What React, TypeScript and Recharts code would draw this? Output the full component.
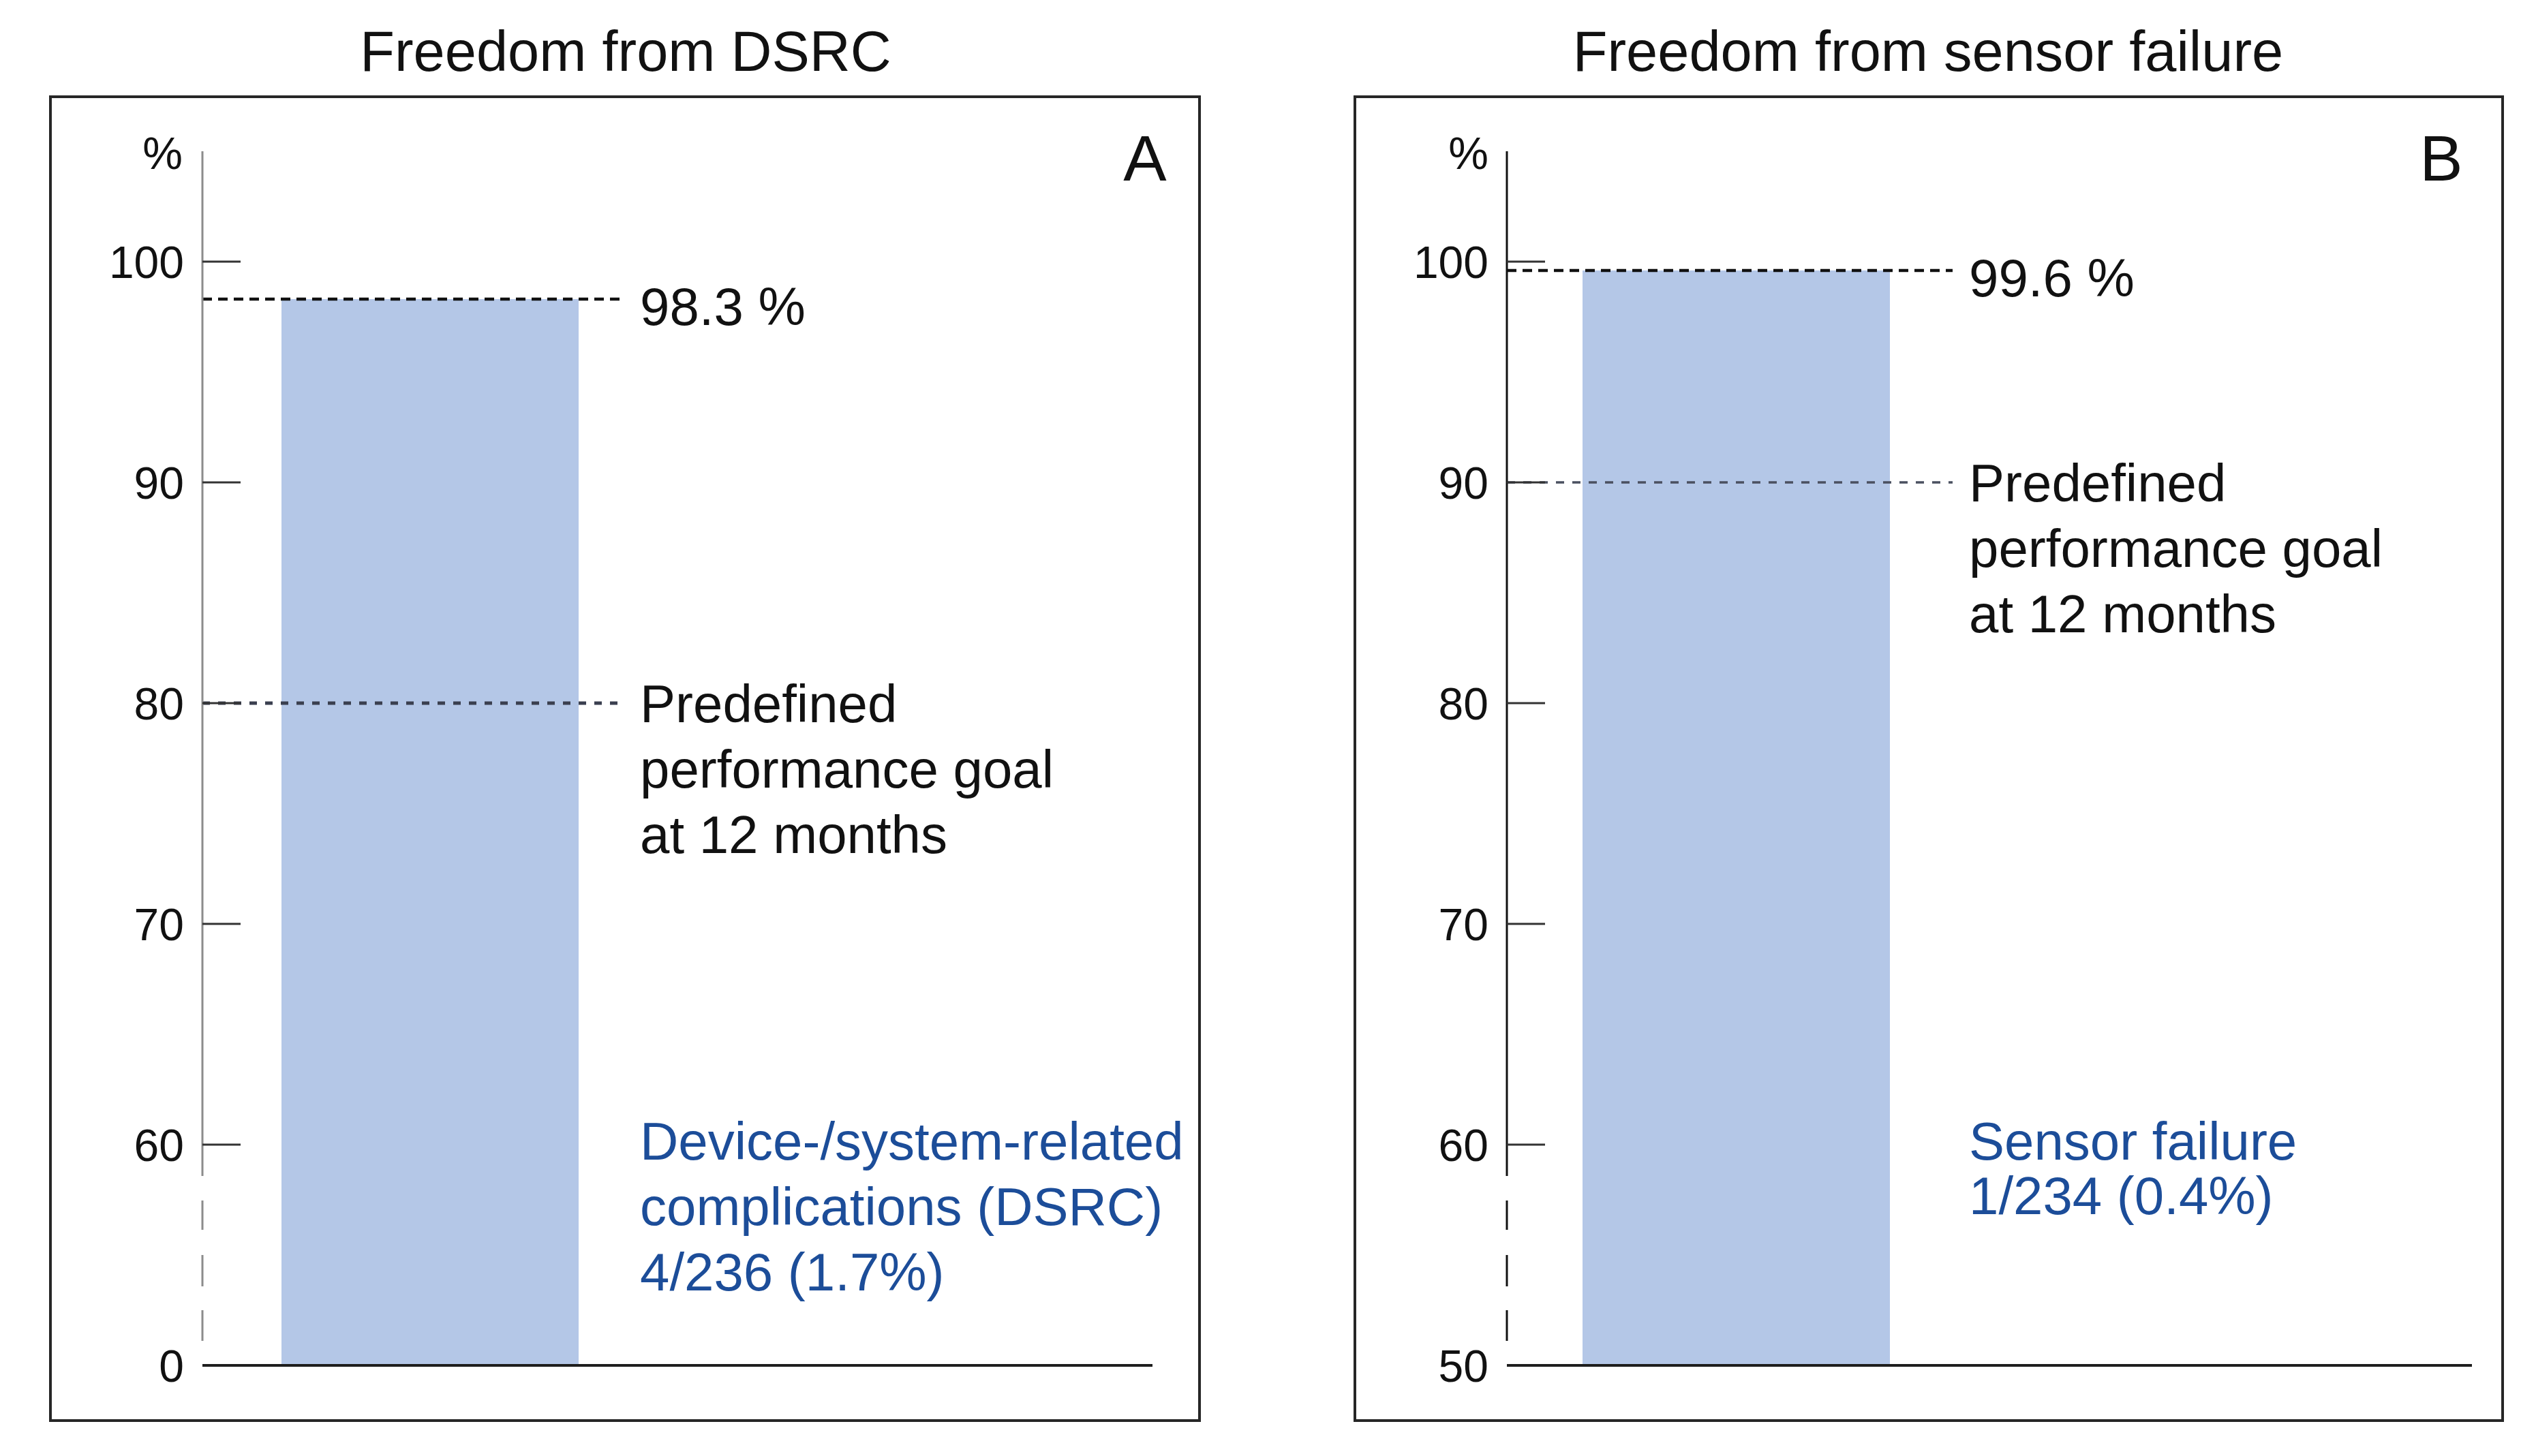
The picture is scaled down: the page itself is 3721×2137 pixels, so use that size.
import React from 'react';
import { BarChart, Bar, XAxis, YAxis, ReferenceLine } from 'recharts';

// ---------- data ----------
const categoriesA = ['Freedom from DSRC'];
const freedomA = [98.3];
const categoriesB = ['Freedom from sensor failure'];
const freedomB = [99.6];
const tickValues = [50, 60, 70, 80, 90, 100];
const tickLabelsA = ['0', '60', '70', '80', '90', '100'];
const tickLabelsB = ['50', '60', '70', '80', '90', '100'];
const goalA = 80;
const goalB = 90;
const titles = ['Freedom from DSRC', 'Freedom from sensor failure'];
const panelLetters = ['A', 'B'];
const resultLabels = ['98.3 %', '99.6 %'];
const goalLines = ['Predefined', 'performance goal', 'at 12 months'];
const eventLinesA = ['Device-/system-related', 'complications (DSRC)', '4/236 (1.7%)'];
const eventLinesB = ['Sensor failure', '1/234 (0.4%)'];

const dataA = categoriesA.map((name, i) => ({ name, value: freedomA[i] }));
const dataB = categoriesB.map((name, i) => ({ name, value: freedomB[i] }));

// ---------- style ----------
const FONT = '"Liberation Sans", Arial, Helvetica, sans-serif';
const BAR = '#b4c7e7';
const BLUE = '#1c4d99';
const INK = '#111111';
const TICK_FS = 66;
const ANN_FS = 78;

const makeTick = (labels: string[]) => (props: any) => {
  const { x, y, payload } = props;
  const idx = tickValues.indexOf(payload.value);
  const lbl = idx >= 0 ? labels[idx] : '';
  return (
    <g>
      {payload.value !== 50 && (
        <line x1={x} y1={y} x2={x + 56} y2={y} stroke="#333" strokeWidth={3} />
      )}
      <text
        x={x - 27}
        y={y + TICK_FS * 0.358}
        textAnchor="end"
        fontSize={TICK_FS}
        fontFamily={FONT}
        fill={INK}
      >
        {lbl}
      </text>
    </g>
  );
};

const makeRefShape = (
  len: number,
  textX: number,
  lines: string[],
  lineH: number,
  dy: number,
  color: string,
  dash: string,
  width: number
) => (p: any) => {
  const x0 = p.x1;
  const y0 = p.y1;
  return (
    <g>
      <line
        x1={x0}
        y1={y0}
        x2={x0 + len}
        y2={y0}
        stroke={color}
        strokeWidth={width}
        strokeDasharray={dash}
      />
      {lines.map((t, i) => (
        <text
          key={i}
          x={x0 + textX}
          y={y0 + dy + i * lineH + ANN_FS * 0.358}
          fontSize={ANN_FS}
          fontFamily={FONT}
          fill={INK}
        >
          {t}
        </text>
      ))}
    </g>
  );
};

type PanelProps = {
  left: number;
  top: number;
  width: number;
  height: number;
  marginRight: number;
  padRight: number;
  barSize: number;
  data: { name: string; value: number }[];
  labels: string[];
  axisColor: string;
  result: number;
  resultLabel: string;
  goal: number;
  lineLen: number;
  textX: number;
  goalColor: string;
  goalDash: string;
  goalWidth: number;
};

function Panel(p: PanelProps) {
  return (
    <div style={{ position: 'absolute', left: p.left, top: p.top }}>
      <BarChart
        width={p.width}
        height={p.height}
        data={p.data}
        margin={{ top: 80, right: p.marginRight, bottom: 80, left: 0 }}
        barCategoryGap={0}
      >
        <XAxis
          dataKey="name"
          type="category"
          tick={false}
          tickLine={false}
          height={1}
          axisLine={{ stroke: '#1e1e1e', strokeWidth: 4 }}
          padding={{ left: 0, right: p.padRight }}
        />
        <YAxis
          type="number"
          domain={[50, 105]}
          ticks={tickValues}
          interval={0}
          width={223}
          tickSize={0}
          tickMargin={0}
          tickLine={false}
          axisLine={{
            stroke: p.axisColor,
            strokeWidth: 3,
            strokeDasharray: '1504 36 43 37 46 35 45 60',
          }}
          tick={makeTick(p.labels)}
        />
        <Bar dataKey="value" fill={BAR} barSize={p.barSize} isAnimationActive={false} />
        <ReferenceLine
          y={p.goal}
          shape={makeRefShape(p.lineLen, p.textX, goalLines, 96, 0, p.goalColor, p.goalDash, p.goalWidth)}
        />
        <ReferenceLine
          y={p.result}
          shape={makeRefShape(p.lineLen, p.textX, [p.resultLabel], 96, 10, '#111', '14 9', 4.5)}
        />
      </BarChart>
    </div>
  );
}

const abs = (s: React.CSSProperties): React.CSSProperties => ({ position: 'absolute', ...s });

export default function App() {
  return (
    <div
      style={{
        position: 'absolute',
        left: 0,
        top: 0,
        width: 3721,
        height: 2137,
        background: '#ffffff',
        fontFamily: FONT,
        color: INK,
        overflow: 'hidden',
      }}
    >
      {/* titles */}
      <div style={abs({ left: 318, top: 26, width: 1200, textAlign: 'center', fontSize: 83, lineHeight: '100px' })}>
        {titles[0]}
      </div>
      <div style={abs({ left: 2229, top: 26, width: 1200, textAlign: 'center', fontSize: 83, lineHeight: '100px' })}>
        {titles[1]}
      </div>

      {/* panel boxes */}
      <div style={abs({ left: 72, top: 140, width: 1690, height: 1947, border: '4px solid #262626', boxSizing: 'border-box' })} />
      <div style={abs({ left: 1986, top: 140, width: 1688, height: 1947, border: '4px solid #262626', boxSizing: 'border-box' })} />

      <Panel
        left={74}
        top={142}
        width={1686}
        height={1943}
        marginRight={69}
        padRight={726}
        barSize={436}
        data={dataA}
        labels={tickLabelsA}
        axisColor="#8c8c8c"
        result={freedomA[0]}
        resultLabel={resultLabels[0]}
        goal={goalA}
        lineLen={619}
        textX={642}
        goalColor="#3a3f4f"
        goalDash="11 12"
        goalWidth={5}
      />
      <Panel
        left={1988}
        top={142}
        width={1684}
        height={1943}
        marginRight={45}
        padRight={743}
        barSize={451}
        data={dataB}
        labels={tickLabelsB}
        axisColor="#111111"
        result={freedomB[0]}
        resultLabel={resultLabels[1]}
        goal={goalB}
        lineLen={654}
        textX={678}
        goalColor="#4a5060"
        goalDash="12 12"
        goalWidth={3.5}
      />

      {/* % unit labels */}
      <div style={abs({ left: 68, top: 185, width: 200, textAlign: 'right', fontSize: TICK_FS, lineHeight: '80px' })}>%</div>
      <div style={abs({ left: 1984, top: 185, width: 200, textAlign: 'right', fontSize: TICK_FS, lineHeight: '80px' })}>%</div>

      {/* panel letters */}
      <div style={abs({ left: 1580, top: 185, width: 200, textAlign: 'center', fontSize: 95, lineHeight: '95px', marginLeft: 0 })}>
        <span style={{ position: 'relative', left: 0 }}>{panelLetters[0]}</span>
      </div>
      <div style={abs({ left: 3482, top: 185, width: 200, textAlign: 'center', fontSize: 95, lineHeight: '95px' })}>
        {panelLetters[1]}
      </div>

      {/* event texts */}
      <div style={abs({ left: 939, top: 1675 - 48, fontSize: ANN_FS, lineHeight: '96px', color: BLUE, whiteSpace: 'nowrap' })}>
        {eventLinesA.map((t, i) => (
          <div key={i}>{t}</div>
        ))}
      </div>
      <div style={abs({ left: 2889, top: 1675 - 40, fontSize: ANN_FS, lineHeight: '80px', color: BLUE, whiteSpace: 'nowrap' })}>
        {eventLinesB.map((t, i) => (
          <div key={i}>{t}</div>
        ))}
      </div>
    </div>
  );
}
